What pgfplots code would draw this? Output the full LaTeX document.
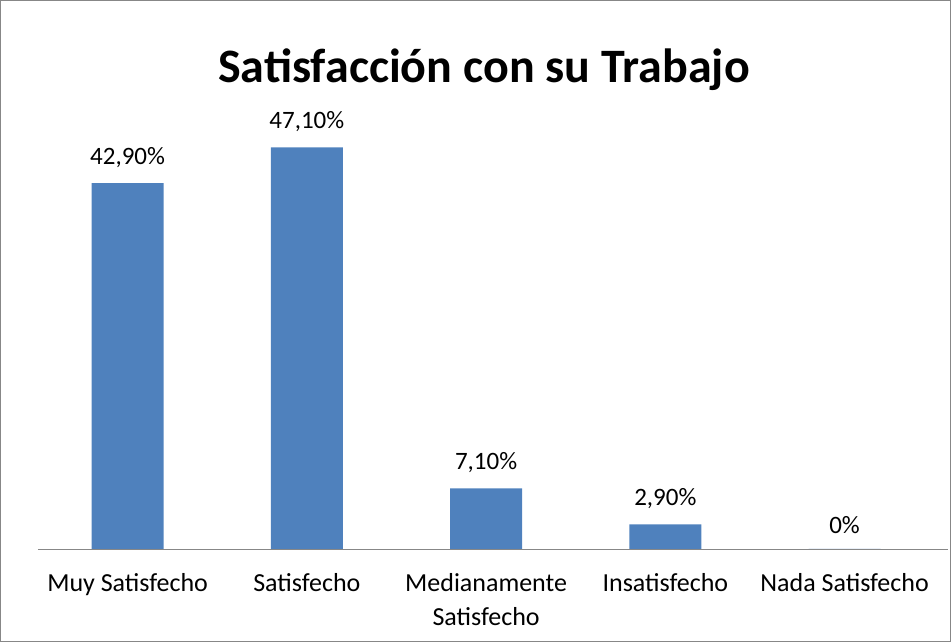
\documentclass[border=0pt]{standalone}
\usepackage{fontspec}
\setmainfont{Carlito}
\usepackage{pgfplots}
\pgfplotsset{compat=1.18}
\definecolor{barblue}{HTML}{4F81BD}
\definecolor{frame}{HTML}{878787}
\begin{document}
\begin{tikzpicture}[x=1pt,y=1pt]
\draw[frame, line width=1pt] (0.5,0.5) rectangle (950.5,641.5);
\node[font=\fontsize{48}{52}\selectfont\bfseries] at (484,572) {Satisfacción con su Trabajo};
\begin{axis}[
    at={(38pt,93pt)}, anchor=south west,
    scale only axis,
    width=910pt, height=469pt,
    ybar, bar width=72pt,
    xmin=-0.5, xmax=4.577,
    ymin=0, ymax=55,
    axis y line=none,
    axis x line*=bottom,
    x axis line style={-, draw=frame, line width=0.8pt},
    xtick={0,1,2,3,4},
    xticklabels={Muy Satisfecho, Satisfecho, {Medianamente\\Satisfecho}, Insatisfecho, Nada Satisfecho},
    major tick length=0pt,
    x tick label style={font=\fontsize{26}{34}\selectfont, align=center, anchor=north, yshift=-21pt},
    point meta=explicit symbolic,
    nodes near coords,
    nodes near coords style={font=\fontsize{25}{30}\selectfont, anchor=south, yshift=12pt},
]
\addplot[fill=barblue, draw=none] coordinates {
    (0,42.9) [42,90\%]
    (1,47.1) [47,10\%]
    (2,7.1) [7,10\%]
    (3,2.9) [2,90\%]
    (4,0) [0\%]
};
\end{axis}
\end{tikzpicture}
\end{document}
